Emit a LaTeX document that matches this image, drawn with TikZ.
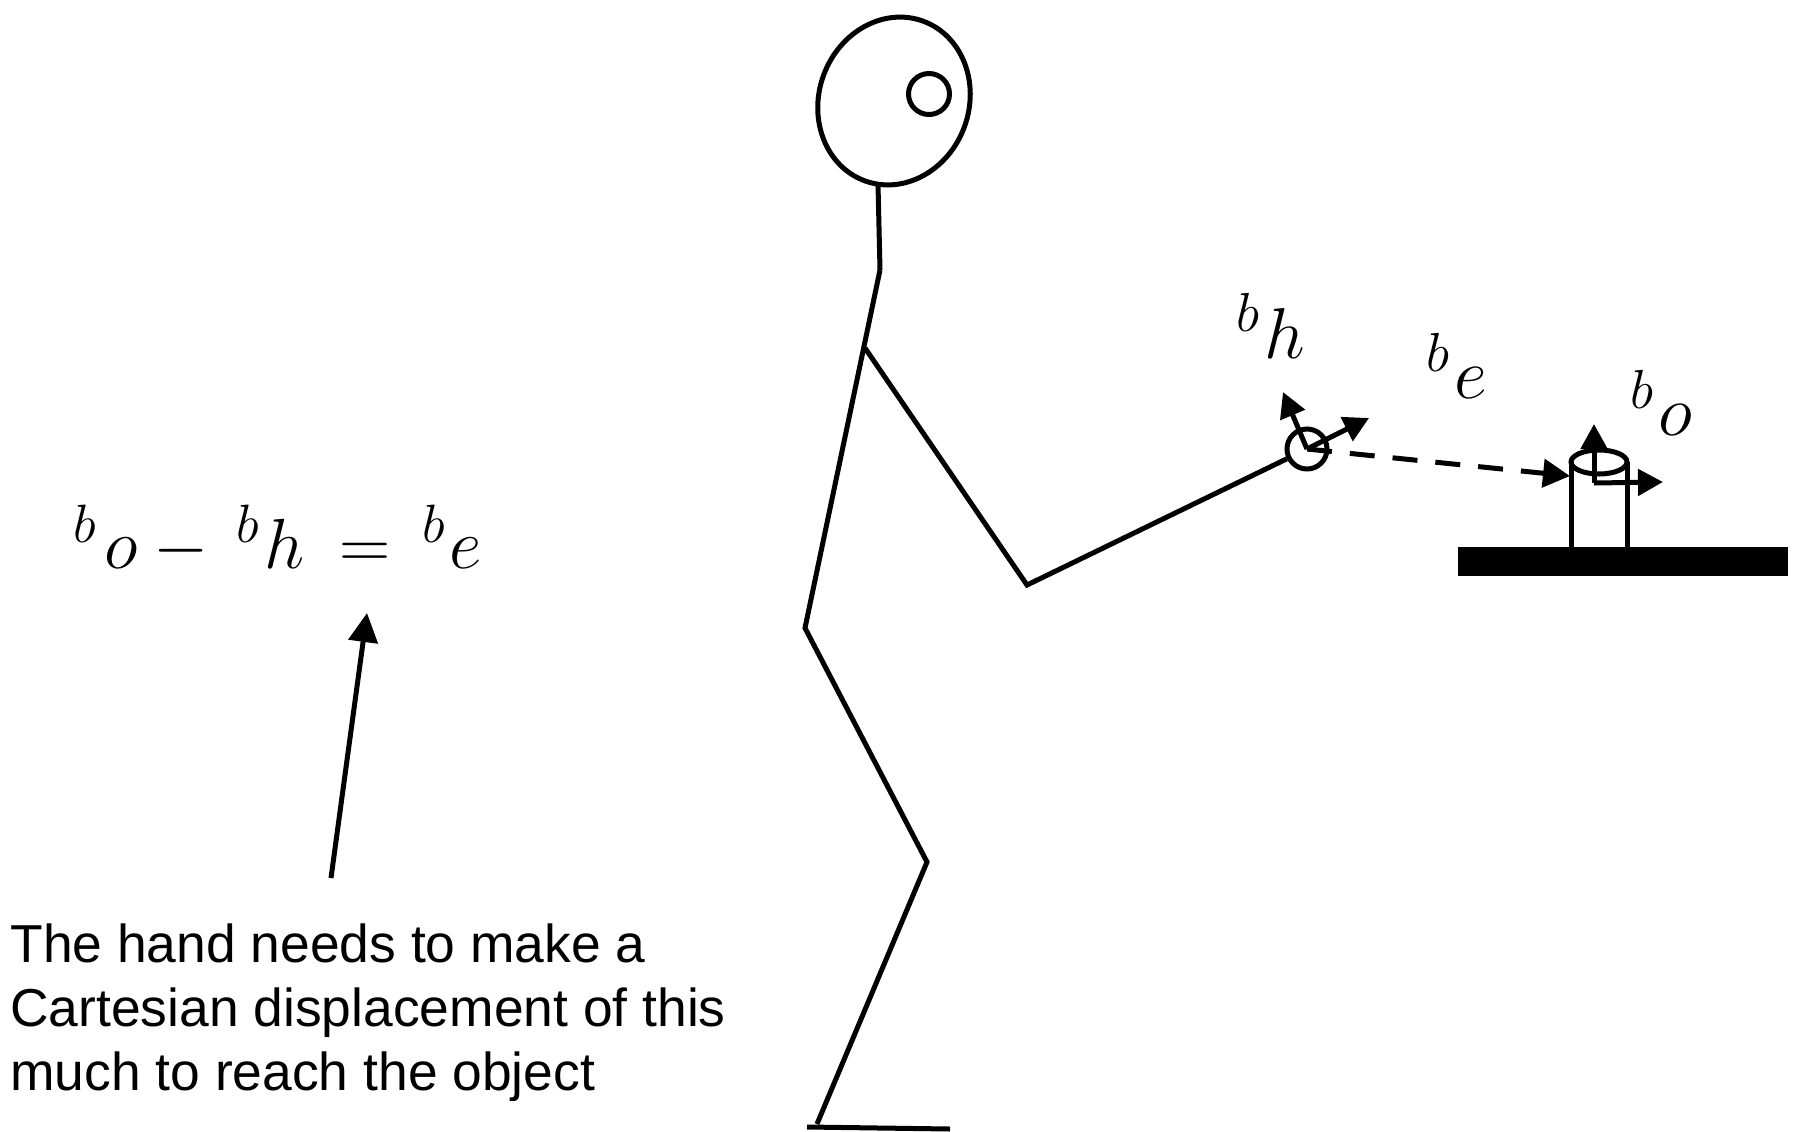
\RequirePackage{fix-cm}
\documentclass[tikz,border=0pt]{standalone}
\usepackage{fontspec}
\setmainfont{Liberation Sans}
\usepackage{tikz}
\usetikzlibrary{arrows.meta,positioning}
% larger superscripts for the frame names
\DeclareMathSizes{35.5}{35.5}{27}{19.5}
\DeclareMathSizes{36}{36}{27.5}{20}
\tikzset{
  limb/.style={line width=2.5pt},
  ptr/.style={line width=2.5pt,-{Triangle[length=14.5pt,width=14.5pt]}},
  ax/.style={line width=2.5pt,-{Triangle[length=12.5pt,width=13pt]}},
  disp/.style={line width=2.5pt,dash pattern=on 12.5pt off 9pt,-{Triangle[length=13.5pt,width=14pt]}},
  lbl/.style={font=\fontsize{36}{43}\selectfont,inner sep=0pt,anchor=base west}
}

\begin{document}
\begin{tikzpicture}[x=0.5pt,y=-0.5pt]
\useasboundingbox (0,0) rectangle (1801,1131);

% head and eye
\draw[limb,rotate around={-20:(894,101)}] (894,101) ellipse [x radius=75, y radius=85];
\draw[limb] (929,94) circle [radius=20.5];

% body joints
\coordinate (neck) at (878,184);
\coordinate (shoulder) at (880,270);
\coordinate (armroot) at (865,348);
\coordinate (hip) at (805,628);
\coordinate (knee) at (927,862);
\coordinate (ankle) at (817,1124);
\coordinate (elbow) at (1027,585);
\node[circle,draw,limb,inner sep=0pt,minimum size=20pt] (hand) at (1307,449) {};

\draw[limb] (neck) -- (shoulder);
\draw[limb] (shoulder) -- (hip) -- (knee) -- (ankle);
\draw[limb] (807,1127) -- (950,1129);
\draw[limb] (armroot) -- (elbow) -- (hand);

% hand frame
\draw[ax] (hand.center) -- ++(-24,-57);
\draw[ax] (hand.center) -- ++(62,-31);

% table and cylinder
\fill (1458,547) rectangle (1788,576);
\draw[limb] (1571,547) -- (1571,462);
\draw[limb] (1627,547) -- (1627,462);
\draw[limb] (1599,462) ellipse [x radius=28, y radius=12];
\coordinate (obj) at (1594,483);
\coordinate (objside) at (1570,476);
\draw[ax] (obj) -- (1594,424);
\draw[ax] (obj) -- (1663,482);

% displacement
\draw[disp] (hand.center) -- (objside);

% frame labels
\node[lbl] (lh) at (1236,358) {${}^{b}\mkern1mu h$};
\node[lbl] (le) at (1426,398) {${}^{b}\mkern1mu e$};
\node[lbl] (lo) at (1630,435) {${}^{b}\mkern1mu o$};

% equation and note
\node[lbl,font=\fontsize{35.5}{42}\selectfont] (eq) at (73,568)
  {${}^{b}\mkern2mu o - \mkern3mu {}^{b}\mkern1mu h \mkern4mu = \mkern3mu {}^{b}\mkern1mu e$};
\node[anchor=north west,align=left,inner sep=0pt,font=\fontsize{26.7}{32}\selectfont] (note) at (10,923)
  {The hand needs to make a\\Cartesian displacement of this\\much to reach the object};
\coordinate (tail) at (331,878);
\coordinate (tip) at (367,613);
\draw[ptr] (tail) -- (tip);
\end{tikzpicture}
\end{document}
